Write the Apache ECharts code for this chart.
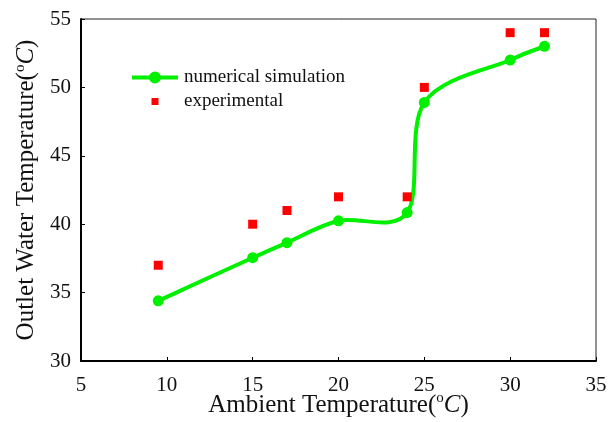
<!DOCTYPE html>
<html>
<head>
<meta charset="utf-8">
<script src="https://cdn.jsdelivr.net/npm/echarts@6/dist/echarts.min.js"></script>
<style>
  html, body { margin: 0; padding: 0; background: #fff; }
  #main { width: 608px; height: 422px; }
</style>
</head>
<body>
<div id="main"></div>
<script>
// 数据
var ambientTemp = [9.5, 15, 17, 20, 24, 25, 30, 32];
var simValues = [34.4, 37.55, 38.65, 40.25, 40.85, 48.9, 52.0, 53.0];
var expValues = [37, 40, 41, 42, 42, 50, 54, 54];
var xTicks = [5, 10, 15, 20, 25, 30, 35];
var yTicks = [30, 35, 40, 45, 50, 55];

var myChart = echarts.init(document.getElementById('main'));

var serif = '"Liberation Serif", "Times New Roman", serif';
var green = '#00f000';
var nameRich = {
    a: { fontFamily: serif, fontSize: 25, color: '#111' },
    s: { fontFamily: serif, fontSize: 15, color: '#111', padding: [0, 0, 13, 0] },
    i: { fontFamily: serif, fontSize: 25, color: '#111', fontStyle: 'italic' }
};

// 平滑曲线 (Excel 那种 Catmull-Rom 样式)，每一段画一个 bezier
function renderSim(params, api) {
    var n = ambientTemp.length;
    var i = params.dataIndex;
    var pt = function (k) {
        k = Math.max(0, Math.min(n - 1, k));
        return api.coord([ambientTemp[k], simValues[k]]);
    };
    var p0 = pt(i - 1), p1 = pt(i), p2 = pt(i + 1), p3 = pt(i + 2);
    var children = [];
    if (i < n - 1) {
        children.push({
            type: 'bezierCurve',
            shape: {
                x1: p1[0], y1: p1[1],
                x2: p2[0], y2: p2[1],
                cpx1: p1[0] + (p2[0] - p0[0]) / 6,
                cpy1: p1[1] + (p2[1] - p0[1]) / 6,
                cpx2: p2[0] - (p3[0] - p1[0]) / 6,
                cpy2: p2[1] - (p3[1] - p1[1]) / 6
            },
            style: { stroke: green, lineWidth: 4, fill: null, lineCap: 'round' }
        });
    }
    children.push({
        type: 'circle',
        shape: { cx: p1[0], cy: p1[1], r: 5.5 },
        style: { fill: green }
    });
    return { type: 'group', children: children };
}

option = {
    backgroundColor: '#fff',
    animation: false,
    grid: {
        left: 81,
        top: 19,
        right: 12,
        bottom: 61,
        outerBoundsMode: 'none',
        show: true,
        borderColor: '#222',
        borderWidth: 1
    },
    legend: {
        orient: 'vertical',
        left: 127,
        top: 63,
        itemWidth: 46,
        itemHeight: 12,
        itemGap: 5,
        textStyle: { fontFamily: serif, fontSize: 19, color: '#111', padding: [0, 0, 0, 1] },
        data: [
            {
                name: 'numerical simulation',
                icon: 'path://M0,4h46v4h-46z M17,6a6,6 0 1,1 12,0a6,6 0 1,1 -12,0z',
                itemStyle: { color: green }
            },
            {
                name: 'experimental',
                icon: 'path://M0,0M46,12M19.5,2.5h7v7h-7z',
                itemStyle: { color: '#ff0000' }
            }
        ]
    },
    xAxis: {
        type: 'value',
        min: xTicks[0],
        max: xTicks[xTicks.length - 1],
        interval: 5,
        name: '{a|Ambient Temperature(}{s|o}{i|C}{a|)}',
        nameLocation: 'middle',
        nameGap: 30,
        nameMoveOverlap: false,
        nameTextStyle: { rich: nameRich },
        axisLine: { lineStyle: { color: '#000', width: 2 } },
        axisTick: { inside: true, length: 4, lineStyle: { color: '#000' } },
        axisLabel: { fontFamily: serif, fontSize: 21, color: '#111', margin: 14 },
        splitLine: { show: false }
    },
    yAxis: {
        type: 'value',
        min: yTicks[0],
        max: yTicks[yTicks.length - 1],
        interval: 5,
        name: '{a|Outlet Water Temperature(}{s|o}{i|C}{a|)}',
        nameLocation: 'middle',
        nameGap: 34,
        nameTextStyle: { rich: nameRich },
        axisLine: { show: true, lineStyle: { color: '#000', width: 2 } },
        axisTick: { show: true, inside: true, length: 4, lineStyle: { color: '#000' } },
        axisLabel: { fontFamily: serif, fontSize: 21, color: '#111', margin: 10 },
        splitLine: { show: false }
    },
    series: [
        {
            name: 'numerical simulation',
            type: 'custom',
            renderItem: renderSim,
            itemStyle: { color: green },
            encode: { x: 0, y: 1 },
            data: ambientTemp.map(function (x, i) { return [x, simValues[i]]; }),
            z: 2
        },
        {
            name: 'experimental',
            type: 'scatter',
            symbol: 'rect',
            symbolSize: 9,
            itemStyle: { color: '#ff0000', opacity: 1 },
            data: ambientTemp.map(function (x, i) { return [x, expValues[i]]; }),
            z: 3
        }
    ]
};

myChart.setOption(option);
</script>
</body>
</html>
